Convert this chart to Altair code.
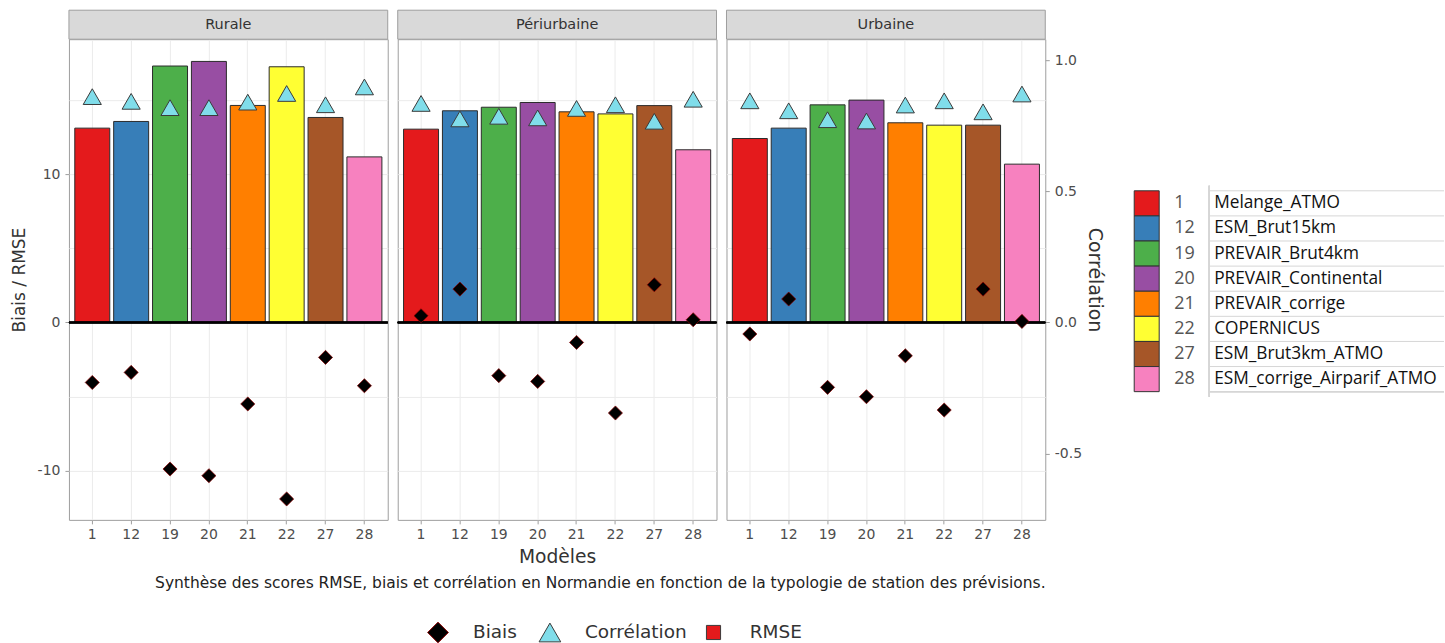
import altair as alt
import pandas as pd

FONT = "DejaVu Sans"
TABLE_FONT = "Open Sans"

# ---- data ---------------------------------------------------------------
typologies = ["Rurale", "Périurbaine", "Urbaine"]
models = ["1", "12", "19", "20", "21", "22", "27", "28"]
model_names = [
    "Melange_ATMO", "ESM_Brut15km", "PREVAIR_Brut4km", "PREVAIR_Continental",
    "PREVAIR_corrige", "COPERNICUS", "ESM_Brut3km_ATMO", "ESM_corrige_Airparif_ATMO",
]
model_colors = ["#E41A1C", "#377EB8", "#4DAF4A", "#984EA3",
                "#FF7F00", "#FFFF33", "#A65628", "#F781BF"]

rmse_rurale = [13.11, 13.56, 17.30, 17.61, 14.64, 17.25, 13.83, 11.17]
biais_rurale = [-4.05, -3.37, -9.89, -10.34, -5.50, -11.91, -2.36, -4.27]
corr_rurale = [0.861, 0.843, 0.819, 0.819, 0.840, 0.873, 0.830, 0.898]

rmse_periurbaine = [13.04, 14.28, 14.52, 14.84, 14.21, 14.07, 14.63, 11.65]
biais_periurbaine = [0.45, 2.25, -3.59, -3.98, -1.35, -6.11, 2.54, 0.18]
corr_periurbaine = [0.835, 0.776, 0.786, 0.780, 0.816, 0.830, 0.767, 0.851]

rmse_urbaine = [12.41, 13.11, 14.68, 15.00, 13.47, 13.31, 13.31, 10.68]
biais_urbaine = [-0.78, 1.58, -4.38, -5.01, -2.25, -5.91, 2.25, 0.07]
corr_urbaine = [0.845, 0.807, 0.773, 0.768, 0.829, 0.845, 0.803, 0.871]

rmse = [rmse_rurale, rmse_periurbaine, rmse_urbaine]
biais = [biais_rurale, biais_periurbaine, biais_urbaine]
corr = [corr_rurale, corr_periurbaine, corr_urbaine]

caption = ("Synthèse des scores RMSE, biais et corrélation en Normandie "
           "en fonction de la typologie de station des prévisions.")
legend_labels = ["Biais", "Corrélation", "RMSE"]

# ---- scales -------------------------------------------------------------
W, H = 319, 481
Y_DOMAIN = [-13.32, 19.11]
COR_DOMAIN = [-0.753, 1.080]   # secondary axis: Biais/RMSE divided by ~17.7

x_scale = alt.Scale(domain=models, paddingInner=0.1, paddingOuter=0.15)
fill_scale = alt.Scale(domain=models, range=model_colors)
y_scale = alt.Scale(domain=Y_DOMAIN, nice=False, zero=False)
cor_scale = alt.Scale(domain=COR_DOMAIN, nice=False, zero=False)

GRID = "#ebebeb"
TICK = "#9e9e9e"
LABEL = "#4d4d4d"
TRI_FILL = "#80DDEA"

major_test = "abs(datum.value % 10) < 0.001"
# plain hyphen for negative numbers
hyphen = "replace(datum.label, '\u2212', '-')"


def panel(idx):
    df = pd.DataFrame({
        "modele": models,
        "rmse": rmse[idx],
        "biais": biais[idx],
        "corr": corr[idx],
    })
    base = alt.Chart(df)

    x_axis = alt.Axis(
        title="Modèles" if idx == 1 else None,
        labelAngle=0, domain=False, tickColor=TICK, tickSize=4,
        labelColor=LABEL, labelFontSize=14, labelPadding=4,
        grid=True, gridColor=GRID, gridWidth=1,
        titleFontSize=18.7, titleFontWeight="normal", titleColor="#333",
        titlePadding=6,
    )
    X = alt.X("modele:N", sort=models, scale=x_scale, axis=x_axis)

    if idx == 0:
        y_axis = alt.Axis(
            values=[-10, -5, 0, 5, 10, 15], format="d",
            labelExpr=f"{major_test} ? {hyphen} : ''",
            tickOpacity={"condition": {"test": major_test, "value": 1}, "value": 0},
            gridColor=GRID, gridWidth=1, domain=False,
            tickColor=TICK, tickSize=4, labelColor=LABEL, labelFontSize=14,
            labelPadding=5, title="Biais / RMSE", titleFontSize=17,
            titleFontWeight="normal", titleColor="#333", titlePadding=9,
        )
    else:
        y_axis = alt.Axis(
            values=[-10, -5, 0, 5, 10, 15], labels=False, ticks=False,
            domain=False, title=None, gridColor=GRID, gridWidth=1,
        )

    bars = base.mark_bar(stroke="#2b2b2b", strokeWidth=1).encode(
        x=X,
        y=alt.Y("rmse:Q", scale=y_scale, axis=y_axis),
        fill=alt.Fill("modele:N", scale=fill_scale, legend=None),
    )
    zero = base.mark_rule(color="black", strokeWidth=1.5).encode(
        y=alt.datum(0, type="quantitative")
    )
    diamonds = base.mark_point(
        shape="diamond", filled=True, fill="black", stroke="#8B0000",
        strokeWidth=0.7, size=200, opacity=1,
    ).encode(x=X, y=alt.Y("biais:Q", scale=y_scale))

    strip_df = pd.DataFrame({"typo": [typologies[idx]]})
    strip = alt.Chart(strip_df).mark_rect(
        fill="#d9d9d9", stroke="#9e9e9e", strokeWidth=1
    ).encode(x=alt.value(0), x2=alt.value(W), y=alt.value(-29), y2=alt.value(0))
    strip_text = alt.Chart(strip_df).mark_text(
        font=FONT, fontSize=14.5, color="#333", baseline="middle", align="center"
    ).encode(x=alt.value(W / 2), y=alt.value(-14.5), text="typo:N")

    main_layers = [bars, zero, diamonds, strip, strip_text]
    if idx == 0:
        # invisible spacer fixing the left margin of the figure
        main_layers.append(
            alt.Chart(strip_df).mark_rule(strokeWidth=1, opacity=0).encode(
                x=alt.value(-68), x2=alt.value(-60), y=alt.value(0)
            )
        )
    main = alt.layer(*main_layers)

    if idx == 2:
        cor_axis = alt.Axis(
            orient="right", values=[-0.5, 0, 0.5, 1.0], format=".1f",
            labelExpr=hyphen,
            grid=False, domain=False, tickColor=TICK, tickSize=4,
            labelColor=LABEL, labelFontSize=14, labelPadding=5,
            title="Corrélation", titleFontSize=19, titleFontWeight="normal",
            titleColor="#333", titlePadding=3,
        )
    else:
        cor_axis = None
    tri_y = alt.Y("corr:Q", scale=cor_scale, axis=cor_axis)
    triangles = base.mark_point(
        shape="triangle-up", filled=True, fill=TRI_FILL, stroke="#3a3a3a",
        strokeWidth=1, size=330, opacity=1,
    ).encode(x=X, y=tri_y)

    layers = [main, triangles]

    if idx == 1:
        cap_df = pd.DataFrame({"t": [caption]})
        layers.append(
            alt.Chart(cap_df).mark_text(
                font=FONT, fontSize=15.5, color="#222", align="right",
                baseline="middle",
            ).encode(x=alt.value(648.3), y=alt.value(543.7), text="t:N")
        )
        # bottom legend: symbol, then its label
        leg_df = pd.DataFrame({"label": legend_labels})
        leg_y = 593.7
        symbols = [
            ("diamond", "black", "#8B0000", 430, 40.3),
            ("triangle-up", TRI_FILL, "#3a3a3a", 470, 152.3),
            ("square", "#E41A1C", "#3a3a3a", 200, 316.0),
        ]
        text_x = [75.3, 187.3, 352.3]
        for i, (shape, fill, stroke, size, sx) in enumerate(symbols):
            layers.append(
                alt.Chart(leg_df.iloc[[i]]).mark_point(
                    shape=shape, filled=True, fill=fill, stroke=stroke,
                    strokeWidth=1, size=size, opacity=1,
                ).encode(x=alt.value(sx), y=alt.value(leg_y))
            )
            layers.append(
                alt.Chart(leg_df.iloc[[i]]).mark_text(
                    font=FONT, fontSize=18.5, color="#333", align="left",
                    baseline="middle",
                ).encode(x=alt.value(text_x[i]), y=alt.value(leg_y), text="label:N")
            )

    return alt.layer(*layers).resolve_scale(y="independent").properties(
        width=W, height=H
    )


# ---- model table on the right --------------------------------------------
tdf = pd.DataFrame({"modele": models, "nom": model_names})
row_scale = alt.Scale(domain=models, range=[151.7, 352.7],
                      paddingInner=0, paddingOuter=0)
ROW = alt.Y("modele:N", sort=models, scale=row_scale, axis=None)
tbase = alt.Chart(tdf)

swatches = tbase.mark_rect(stroke="#333", strokeWidth=1).encode(
    x=alt.value(79), x2=alt.value(104), y=ROW,
    fill=alt.Fill("modele:N", scale=fill_scale, legend=None),
)
numbers = tbase.mark_text(
    font=TABLE_FONT, fontSize=18, color="#555", align="left", baseline="middle"
).encode(x=alt.value(119), y=ROW, text="modele:N")
labels = tbase.mark_text(
    font=TABLE_FONT, fontSize=17.3, color="#111", align="left", baseline="middle"
).encode(x=alt.value(159), y=ROW, text="nom:N")
hlines = tbase.mark_rule(color="#d6d6d6", strokeWidth=1).encode(
    y=alt.Y("modele:N", sort=models, scale=row_scale, axis=None, bandPosition=0),
    x=alt.value(154), x2=alt.value(389),
)
bottom_line = tbase.mark_rule(color="#d6d6d6", strokeWidth=1).encode(
    y=alt.value(352.7), x=alt.value(154), x2=alt.value(389)
)
vline = tbase.mark_rule(color="#d6d6d6", strokeWidth=1).encode(
    x=alt.value(154), y=alt.value(146.7), y2=alt.value(357.7)
)
table = alt.layer(hlines, bottom_line, vline, swatches, numbers, labels).properties(
    width=389, height=H, view=alt.ViewBackground(stroke="transparent")
)

chart = alt.hconcat(
    panel(0), panel(1), panel(2), table, spacing=10, bounds="flush"
).configure(
    font=FONT, padding={"left": 0, "top": 9, "right": 0, "bottom": 5}
).configure_view(
    stroke="#9e9e9e", strokeWidth=1
)

chart.save("out.html", embed_options={"renderer": "svg", "actions": False})
